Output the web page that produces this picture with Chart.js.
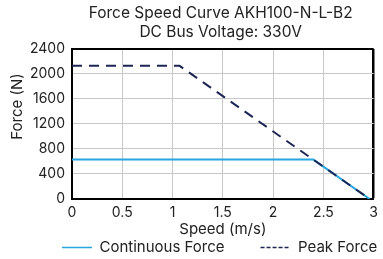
<!DOCTYPE html>
<html><head><meta charset="utf-8">
<script src="https://cdn.jsdelivr.net/npm/chart.js@4"></script>
<style>html,body{margin:0;padding:0;background:#fff;}</style>
</head><body>
<canvas id="c" width="383" height="259" style="display:block;width:383px;height:259px"></canvas>
<script>
const titleLines = ["Force Speed Curve AKH100-N-L-B2", "DC Bus Voltage: 330V"];
const xTitle = "Speed (m/s)";
const yTitle = "Force (N)";
const seriesNames = ["Continuous Force", "Peak Force"];
const continuousSpeed = [0, 2.4, 2.96];
const continuousForce = [630, 630, 0];
const peakSpeed = [0, 1.07, 2.4, 2.96];
const peakForce = [2130, 2130, 630, 0];
const xTicks = [0, 0.5, 1, 1.5, 2, 2.5, 3];
const yTicks = [0, 400, 800, 1200, 1600, 2000, 2400];

const FONT = "Inter";
const toPts = (xs, ys) => xs.map((x, i) => ({x: x, y: ys[i]}));

const placePlugin = {
  id: 'place',
  afterLayout(chart) {
    const ca = chart.chartArea;
    if (chart.titleBlock) { chart.titleBlock.left = ca.left; chart.titleBlock.right = 2 * 220.7 - ca.left; }
    const lg = chart.legend;
    if (lg && lg.legendHitBoxes) {
      const P = lg.options.labels.padding;
      const LW = lg.legendHitBoxes.reduce((s, h) => s + h.width + P, 0);
      lg.lineWidths = [LW];
      const R = 700;
      const startX = 62;
      lg.right = R;
      lg.left = 2 * startX - P - R + LW;
      lg.top = 240 - P; lg.bottom = 259;
    }
    const ys = chart.scales.y;
    if (ys && !ys._titleShifted) {
      const orig = ys.drawTitle;
      ys.drawTitle = function () {
        const ctx = this.ctx;
        ctx.save(); ctx.translate(0, -17.5);
        orig.apply(this, arguments);
        ctx.restore();
      };
      ys._titleShifted = true;
    }
  }
};

new Chart(document.getElementById('c'), {
  type: 'line',
  data: {
    datasets: [
      { label: seriesNames[0], data: toPts(continuousSpeed, continuousForce), borderColor: '#29a6df', backgroundColor: '#29a6df', borderWidth: 2, pointRadius: 0, tension: 0, fill: false, order: 1 },
      { label: seriesNames[1], data: toPts(peakSpeed, peakForce), borderColor: '#1c2553', backgroundColor: '#1c2553', borderWidth: 2, borderDash: [10, 7], pointRadius: 0, tension: 0, fill: false, order: 0 }
    ]
  },
  options: {
    responsive: false,
    devicePixelRatio: 1,
    animation: false,
    layout: { padding: { left: 0, right: 8.5, top: 0, bottom: 0 } },
    plugins: {
      tooltip: { enabled: false },
      title: {
        display: true, text: titleLines, color: '#222',
        font: { family: FONT, size: 15.5, weight: 'normal', lineHeight: 1.206 },
        padding: { top: 4.15, bottom: 7.45 }
      },
      legend: {
        display: true, position: 'bottom', maxHeight: 20,
        labels: {
          color: '#222', font: { family: FONT, size: 15 },
          usePointStyle: true, pointStyle: 'line', pointStyleWidth: 30, padding: 36,
          sort: (a, b) => a.datasetIndex - b.datasetIndex,
          generateLabels(chart) {
            const items = Chart.defaults.plugins.legend.labels.generateLabels(chart);
            items.forEach(it => {
              it.lineWidth = 1.5;
              it.pointStyle = 'line';
              it.lineDash = it.datasetIndex === 1 ? [4, 2] : [];
            });
            return items;
          }
        }
      }
    },
    scales: {
      x: {
        type: 'linear', min: 0, max: 3,
        afterBuildTicks(s) { s.ticks = xTicks.map(v => ({value: v})); },
        afterFit(s) { s.height = 40; },
        ticks: { color: '#222', font: { family: FONT, size: 14 }, padding: 5, maxRotation: 0, callback: v => String(v) },
        grid: { drawTicks: false, color: c => (c.tick && c.tick.value === 3) ? '#000' : '#c8c8c8', lineWidth: c => (c.tick && c.tick.value === 3) ? 2.5 : 1 },
        border: { display: true, color: '#000', width: 2 },
        title: { display: true, text: xTitle, color: '#222', font: { family: FONT, size: 15, lineHeight: 1.2 }, padding: { top: 0, bottom: 1 } }
      },
      y: {
        type: 'linear', min: 0, max: 2400,
        afterBuildTicks(s) { s.ticks = yTicks.map(v => ({value: v})); },
        afterFit(s) { s.width = 72; },
        ticks: { color: '#222', font: { family: FONT, size: 14 }, padding: 7, callback: v => String(v) },
        grid: { drawTicks: false, color: c => (c.tick && c.tick.value === 2400) ? '#000' : '#c8c8c8', lineWidth: c => (c.tick && c.tick.value === 2400) ? 2 : 1 },
        border: { display: true, color: '#000', width: 2 },
        title: { display: true, text: yTitle, color: '#222', font: { family: FONT, size: 15, lineHeight: 1.2 }, padding: { top: 8, bottom: 0 } }
      }
    }
  },
  plugins: [placePlugin]
});
</script>
</body></html>
